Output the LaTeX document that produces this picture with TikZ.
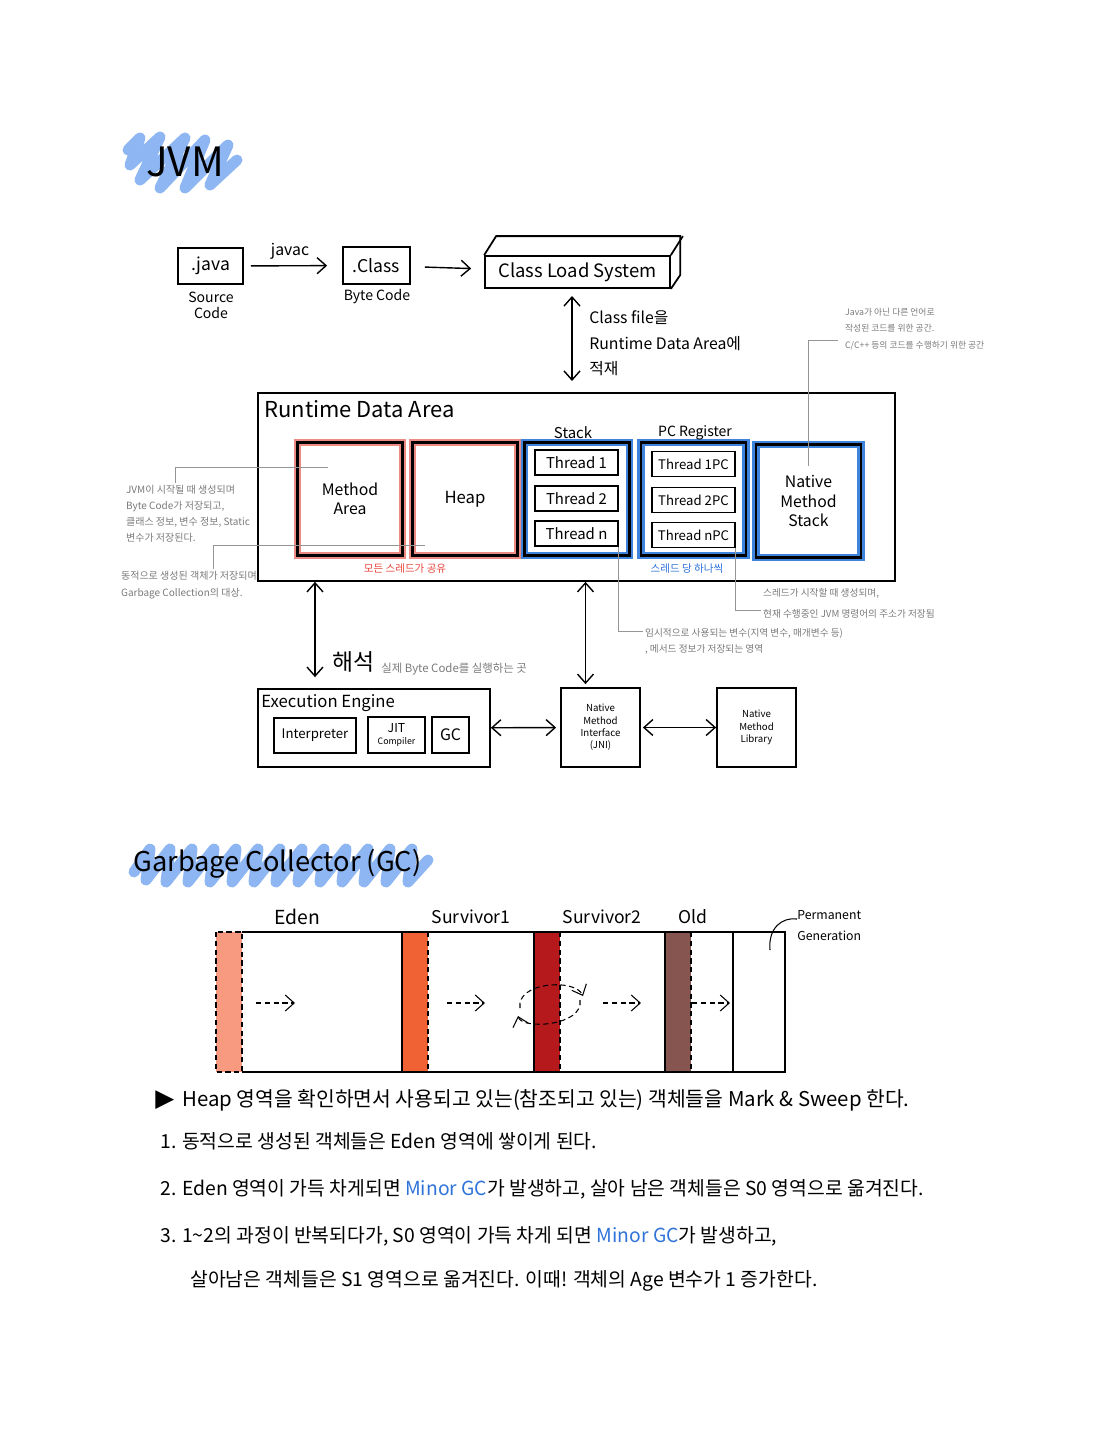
\documentclass[tikz,border=0pt]{standalone}
\usepackage{fontspec}
\setmainfont{Noto Sans CJK KR}
\newfontfamily\symfont{DejaVu Sans}
\usetikzlibrary{positioning, arrows.meta}

\definecolor{hlblue}{HTML}{8DB6F2}
\definecolor{boxred}{HTML}{EC8A84}
\definecolor{boxblue}{HTML}{3E83DC}
\definecolor{txtred}{HTML}{E8453C}
\definecolor{txtblue}{HTML}{2F73D9}
\definecolor{notegray}{HTML}{7A7A7A}
\definecolor{eden}{HTML}{F79A80}
\definecolor{surva}{HTML}{F06234}
\definecolor{survb}{HTML}{B5191B}
\definecolor{oldgen}{HTML}{86554F}

\begin{document}
\begin{tikzpicture}[x=0.02cm, y=-0.02cm,
    >={Straight Barb[length=1.8mm, width=3.2mm]},
    box/.style={draw, line width=1pt, inner sep=1pt, align=center},
    mem/.style={draw, line width=1.3pt, minimum width=2.1cm, minimum height=2.26cm, align=center, inner sep=1pt, preaction={draw=#1, line width=0.15cm}},
    thr/.style={draw, line width=1pt, minimum width=1.66cm, minimum height=0.5cm, inner sep=0pt},
    note/.style={anchor=north west, align=left, text=notegray, inner sep=1pt, font=\fontsize{5.5}{9.4}\selectfont},
    noteline/.style={draw=notegray!80, line width=0.5pt},
    hl/.style={draw=hlblue, line width=0.22cm, line cap=round, line join=round},
    ]
    \useasboundingbox (0,0) rectangle (1113,1440);

    % JVM title
    \draw[hl] (128,150) -- (140,138) -- (130,165) -- (160,137) -- (140,180) -- (185,138) -- (160,188) -- (205,140) -- (185,188) -- (228,145) -- (210,185) -- (237,160);
    \node[font=\fontsize{23}{24}\selectfont] (jvm_title) at (185,162) {JVM};

    % source -> byte code -> class loader
    \node[box, minimum width=1.3cm, minimum height=0.72cm, font=\fontsize{10}{12}\selectfont] (java) at (210.5,266) {.java};
    \node[align=center, inner sep=0pt, font=\fontsize{8}{9}\selectfont] (java_lbl) at (211,305) {Source\\Code};
    \node[box, minimum width=1.34cm, minimum height=0.74cm, font=\fontsize{10}{12}\selectfont] (class) at (376.5,265.5) {.Class};
    \node[inner sep=0pt, font=\fontsize{8}{9}\selectfont] (class_lbl) at (377,297) {Byte Code};
    \node[font=\fontsize{9}{10}\selectfont] (javac) at (290,251) {javac};
    \node[box, minimum width=3.7cm, minimum height=0.64cm, font=\fontsize{10.5}{12}\selectfont] (cls_sys) at (577.5,272) {Class Load System};
    \draw[line width=1pt] (cls_sys.north west) -- ++(12,-19) -- ++(184,0) -- ++(0,39) -- (cls_sys.south east);
    \draw[line width=1pt] (cls_sys.north east) -- ++(12,-19);

    \draw[->, line width=0.8pt, shorten <=0.14cm, shorten >=0.3cm] (java) -- (class);
    \draw[->, line width=0.8pt, shorten <=0.28cm, shorten >=0.26cm] (class) -- (cls_sys);

    \coordinate (load_top) at (572,296);
    \coordinate (load_bot) at (572,381);
    \draw[<->, line width=0.8pt] (load_top) -- (load_bot);
    \node[anchor=north west, align=left, inner sep=0pt, font=\fontsize{9}{14.7}\selectfont] (load_note) at (589,310) {Class file을\\Runtime Data Area에\\적재};

    % runtime data area
    \node[box, minimum width=12.74cm, minimum height=3.76cm] (rda) at (576.5,487) {};
    \node[anchor=west, inner sep=0pt, font=\fontsize{12.5}{14}\selectfont] (rda_title) at (264,409) {Runtime Data Area};

    \node[mem=boxred, font=\fontsize{9}{11}\selectfont] (method) at (350,499) {Method\\Area};
    \node[mem=boxred, font=\fontsize{9.5}{11}\selectfont] (heap) at (465,499) {Heap};
    \node[mem=boxblue] (stack) at (577,499) {};
    \node[mem=boxblue] (pc) at (693.5,499) {};
    \node[mem=boxblue, font=\fontsize{9}{11}\selectfont] (native_stack) at (808.5,501) {Native\\Method\\Stack};

    \node[font=\fontsize{8.5}{10}\selectfont, inner sep=0pt] (stack_lbl) at (573,433) {Stack};
    \node[font=\fontsize{8}{10}\selectfont, inner sep=0pt] (pc_lbl) at (695,433) {PC Register};

    \node[thr, font=\fontsize{8.5}{10}\selectfont] (thr_1) at (576.5,462.5) {Thread 1};
    \node[thr, font=\fontsize{8.5}{10}\selectfont] (thr_2) at (576.5,498.5) {Thread 2};
    \node[thr, font=\fontsize{8.5}{10}\selectfont] (thr_n) at (576.5,533.5) {Thread n};
    \node[thr, font=\fontsize{7.5}{10}\selectfont] (thr_1pc) at (693.5,464) {Thread 1PC};
    \node[thr, font=\fontsize{7.5}{10}\selectfont] (thr_2pc) at (693.5,500) {Thread 2PC};
    \node[thr, font=\fontsize{7.5}{10}\selectfont] (thr_npc) at (693.5,535) {Thread nPC};

    \node[text=txtred, font=\fontsize{6}{7}\selectfont, inner sep=0pt] (shared_lbl) at (405,569) {모든 스레드가 공유};
    \node[text=txtblue, font=\fontsize{6}{7}\selectfont, inner sep=0pt] (perthr_lbl) at (687,569) {스레드 당 하나씩};

    % annotations
    \node[note, font=\fontsize{5.7}{9.2}\selectfont] (ma_note) at (124,483) {JVM이 시작될 때 생성되며\\Byte Code가 저장되고,\\클래스 정보, 변수 정보, Static\\변수가 저장된다.};
    \coordinate (ma_bend) at (175,467);
    \coordinate (ma_pt) at (328,467);
    \draw[noteline] (ma_note.north -| ma_bend) -- (ma_bend) -- (ma_pt);

    \node[note, font=\fontsize{5.7}{9.6}\selectfont] (heap_note) at (119,569) {동적으로 생성된 객체가 저장되며\\Garbage Collection의 대상.};
    \coordinate (heap_bend) at (213,545);
    \coordinate (heap_pt) at (425,545);
    \draw[noteline] (heap_note.north -| heap_bend) -- (heap_bend) -- (heap_pt);

    \node[note, font=\fontsize{5}{9.4}\selectfont] (nms_note) at (843,306) {Java가 아닌 다른 언어로\\작성된 코드를 위한 공간.\\C/C++ 등의 코드를 수행하기 위한 공간};
    \coordinate (nms_pt) at (808,466);
    \coordinate (nms_bend) at (808,340);
    \draw[noteline] (nms_pt) -- (nms_bend) -- ([xshift=-0.1cm]nms_note.west |- nms_bend);

    \node[note, font=\fontsize{5.5}{12}\selectfont] (pc_note) at (761,586) {스레드가 시작할 때 생성되며,\\현재 수행중인 JVM 명령어의 주소가 저장됨};
    \draw[noteline] (thr_npc.south east) |- ([yshift=-0.14cm]pc_note.west);

    \node[note, font=\fontsize{5.5}{9.6}\selectfont] (stack_note) at (643,626) {임시적으로 사용되는 변수(지역 변수, 매개변수 등)\\, 메서드 정보가 저장되는 영역};
    \draw[noteline] (thr_n.south east) |- ([yshift=0.2cm]stack_note.west);

    % execution engine and native side
    \node[box, minimum width=4.64cm, minimum height=1.56cm] (exec) at (374,728) {};
    \node[anchor=west, inner sep=0pt, font=\fontsize{9.5}{11}\selectfont] (exec_title) at (261,703) {Execution Engine};
    \node[box, minimum width=1.64cm, minimum height=0.7cm, font=\fontsize{7.5}{9}\selectfont] (interp) at (315,735.5) {Interpreter};
    \node[box, minimum width=1.14cm, minimum height=0.72cm, inner sep=0pt, font=\fontsize{7}{6.5}\selectfont] (jit) at (396.5,735) {JIT\\{\fontsize{5}{6}\selectfont Compiler}};
    \node[box, minimum width=0.74cm, minimum height=0.72cm, font=\fontsize{9}{10}\selectfont] (gc) at (450.5,735) {GC};

    \node[box, minimum width=1.58cm, minimum height=1.58cm, font=\fontsize{5.5}{7}\selectfont] (nmi) at (600.5,727.5) {Native\\Method\\Interface\\(JNI)};
    \node[box, minimum width=1.58cm, minimum height=1.58cm, font=\fontsize{5.5}{7}\selectfont] (nml) at (756.5,727.5) {Native\\Method\\Library};

    \draw[<->, line width=0.8pt, shorten >=0.22cm] (rda.south -| interp.north) -- (exec.north -| interp.north);
    \coordinate (jni_in) at ([xshift=-0.3cm]nmi.north);
    \draw[<->, line width=0.8pt, shorten >=0.06cm] (rda.south -| jni_in) -- (jni_in);
    \draw[<->, line width=0.8pt, shorten >=0.08cm] (exec) -- (nmi);
    \draw[<->, line width=0.8pt, shorten <=0.04cm] (nmi) -- (nml);

    \node[anchor=west, inner sep=0pt, font=\fontsize{13}{14}\selectfont] (interp_lbl) at (332,662) {해석};
    \node[anchor=west, inner sep=0pt, text=notegray, font=\fontsize{6.5}{8}\selectfont] (interp_note) at (381,669) {실제 Byte Code를 실행하는 곳};

    % garbage collector
    \draw[hl] (134,872) -- (150,849) -- (146,880) -- (170,849) -- (166,882) -- (192,849) -- (188,882) -- (214,849) -- (210,882) -- (236,849) -- (232,882) -- (258,849) -- (254,882) -- (280,849) -- (276,882) -- (302,849) -- (298,882) -- (324,849) -- (320,882) -- (346,849) -- (342,882) -- (368,849) -- (364,882) -- (390,849) -- (386,882) -- (412,849) -- (408,882) -- (428,860);
    \node[anchor=west, inner sep=0pt, font=\fontsize{15.5}{17}\selectfont] (gc_title) at (133,864) {Garbage Collector (GC)};

    \fill[eden] (216,932) rectangle (242,1072);
    \draw[densely dashed, line width=0.6pt] (216,932) rectangle (242,1072);
    \fill[surva] (402,932) rectangle (428,1072);
    \fill[survb] (534,932) rectangle (560,1072);
    \fill[oldgen] (665,932) rectangle (691,1072);
    \draw[line width=1pt] (242,932) -- (785,932) -- (785,1072) -- (242,1072);
    \draw[line width=1pt] (402,932) -- (402,1072);
    \draw[line width=1pt] (534,932) -- (534,1072);
    \draw[line width=1pt] (665,932) -- (665,1072);
    \draw[line width=1pt] (733,932) -- (733,1072);
    \draw[densely dashed, line width=0.6pt] (428,932) -- (428,1072);
    \draw[densely dashed, line width=0.6pt] (560,932) -- (560,1072);
    \draw[densely dashed, line width=0.6pt] (691,932) -- (691,1072);

    \draw[->, densely dashed, line width=0.6pt] (256,1003) -- (295,1003);
    \draw[->, densely dashed, line width=0.6pt] (447,1003) -- (485,1003);
    \draw[->, densely dashed, line width=0.6pt] (603,1003) -- (641,1003);
    \draw[->, densely dashed, line width=0.6pt] (692,1003) -- (730,1003);
    \draw[->, densely dashed, line width=0.6pt] (520,1008) .. controls (516,982) and (575,978) .. (583,996);
    \draw[->, densely dashed, line width=0.6pt] (580,1000) .. controls (584,1026) and (522,1030) .. (518,1016);

    \node[font=\fontsize{11}{12}\selectfont, inner sep=0pt] (eden_lbl) at (297,917) {Eden};
    \node[font=\fontsize{10}{12}\selectfont, inner sep=0pt] (surv1_lbl) at (471,917) {Survivor1};
    \node[font=\fontsize{10}{12}\selectfont, inner sep=0pt] (surv2_lbl) at (602,917) {Survivor2};
    \node[font=\fontsize{10}{12}\selectfont, inner sep=0pt] (old_lbl) at (693,917) {Old};
    \node[anchor=north west, align=left, inner sep=0pt, font=\fontsize{7}{12}\selectfont] (perm_lbl) at (797,910) {Permanent\\Generation};
    \draw[line width=0.6pt] (770,950) .. controls (768,928) and (782,917) .. (perm_lbl.north west |- 0,919);

    % rules
    \node[anchor=west, inner sep=0pt, font=\fontsize{14}{14}\selectfont] (rule_mark) at (155,1100) {\symfont ▶};
    \node[anchor=west, inner sep=0pt, font=\fontsize{11.6}{13}\selectfont] (rule_0) at (182,1100) {Heap 영역을 확인하면서 사용되고 있는(참조되고 있는) 객체들을 Mark \& Sweep 한다.};
    \node[anchor=west, inner sep=0pt, font=\fontsize{11}{13}\selectfont] (rule_1) at (160,1141) {1. 동적으로 생성된 객체들은 Eden 영역에 쌓이게 된다.};
    \node[anchor=west, inner sep=0pt, font=\fontsize{11}{13}\selectfont] (rule_2) at (160,1189) {2. Eden 영역이 가득 차게되면 \textcolor{txtblue}{Minor GC}가 발생하고, 살아 남은 객체들은 S0 영역으로 옮겨진다.};
    \node[anchor=west, inner sep=0pt, font=\fontsize{11}{13}\selectfont] (rule_3) at (160,1236) {3. 1\textasciitilde 2의 과정이 반복되다가, S0 영역이 가득 차게 되면 \textcolor{txtblue}{Minor GC}가 발생하고,};
    \node[anchor=west, inner sep=0pt, font=\fontsize{11}{13}\selectfont] (rule_4) at (190,1281) {살아남은 객체들은 S1 영역으로 옮겨진다. 이때! 객체의 Age 변수가 1 증가한다.};
\end{tikzpicture}
\end{document}
